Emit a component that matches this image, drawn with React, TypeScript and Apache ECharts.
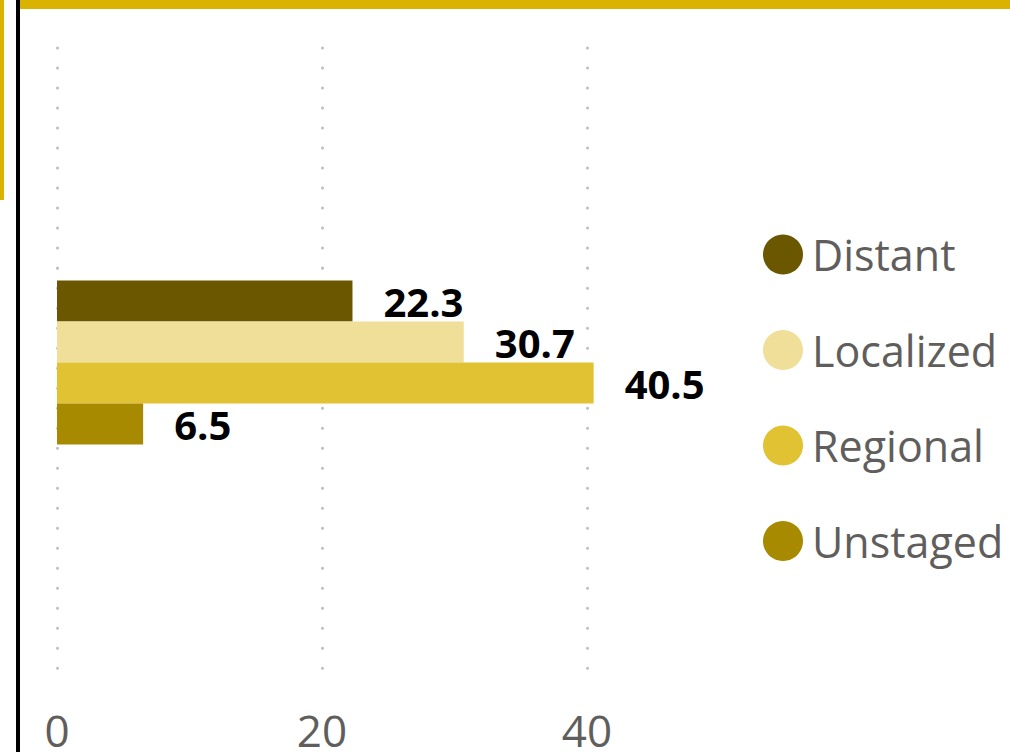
import React, { useEffect, useRef } from "react";
import * as echarts from "echarts";

const categories = [""];
const seriesNames = ["Distant", "Localized", "Regional", "Unstaged"];
const seriesValues = [[22.3], [30.7], [40.5], [6.5]];
const seriesColors = ["#6B5700", "#F0DF99", "#E1C233", "#A88A00"];
const axisMin = 0;
const axisMax = 50;
const axisInterval = 20;

const FONT = "'Open Sans', 'Noto Sans', sans-serif";

export default function App() {
  const ref = useRef<HTMLDivElement>(null);
  useEffect(() => {
    if (!ref.current) return;
    const chart = echarts.init(ref.current, undefined, { renderer: "svg" });
    chart.setOption({
      animation: false,
      backgroundColor: "#ffffff",
      grid: { left: 57, right: 290.5, top: 40, height: 646 },
      legend: {
        orient: "vertical",
        left: 763,
        top: 233,
        padding: 0,
        icon: "circle",
        itemWidth: 40,
        itemHeight: 40,
        itemGap: 52.5,
        data: seriesNames,
        textStyle: {
          fontSize: 43,
          color: "#605E5C",
          fontFamily: FONT,
          padding: [0, 0, 0, 4],
        },
      },
      xAxis: {
        type: "value",
        min: axisMin,
        max: axisMax,
        interval: axisInterval,
        axisLine: { show: false },
        axisTick: { show: false },
        axisLabel: {
          showMaxLabel: false,
          fontSize: 44,
          color: "#605E5C",
          fontFamily: FONT,
          margin: 23,
        },
        splitLine: {
          show: true,
          showMaxLine: false,
          lineStyle: {
            color: "#bdbdbd",
            width: 3,
            type: [0.01, 20],
            cap: "round",
            dashOffset: 12,
          },
        },
      },
      yAxis: {
        type: "category",
        data: categories,
        inverse: true,
        axisLine: { show: false },
        axisTick: { show: false },
        axisLabel: { show: false },
        splitLine: { show: false },
      },
      series: seriesNames.map((name, i) => ({
        name,
        type: "bar",
        data: seriesValues[i],
        barWidth: 41,
        barGap: "0%",
        itemStyle: { color: seriesColors[i] },
        label: {
          show: true,
          position: "right",
          distance: 31,
          fontSize: 40,
          fontWeight: "bold",
          color: "#000000",
          fontFamily: FONT,
        },
      })),
      graphic: [
        { type: "rect", shape: { x: 20, y: 0, width: 990, height: 9 }, style: { fill: "#DAB300" } },
        { type: "rect", shape: { x: 16, y: 0, width: 4, height: 752 }, style: { fill: "#000000" } },
        { type: "rect", shape: { x: 0, y: 0, width: 4, height: 200 }, style: { fill: "#DAB300" } },
      ],
    });
    return () => chart.dispose();
  }, []);
  return (
    <div
      ref={ref}
      style={{ position: "fixed", left: 0, top: 0, width: 1010, height: 752 }}
    />
  );
}
